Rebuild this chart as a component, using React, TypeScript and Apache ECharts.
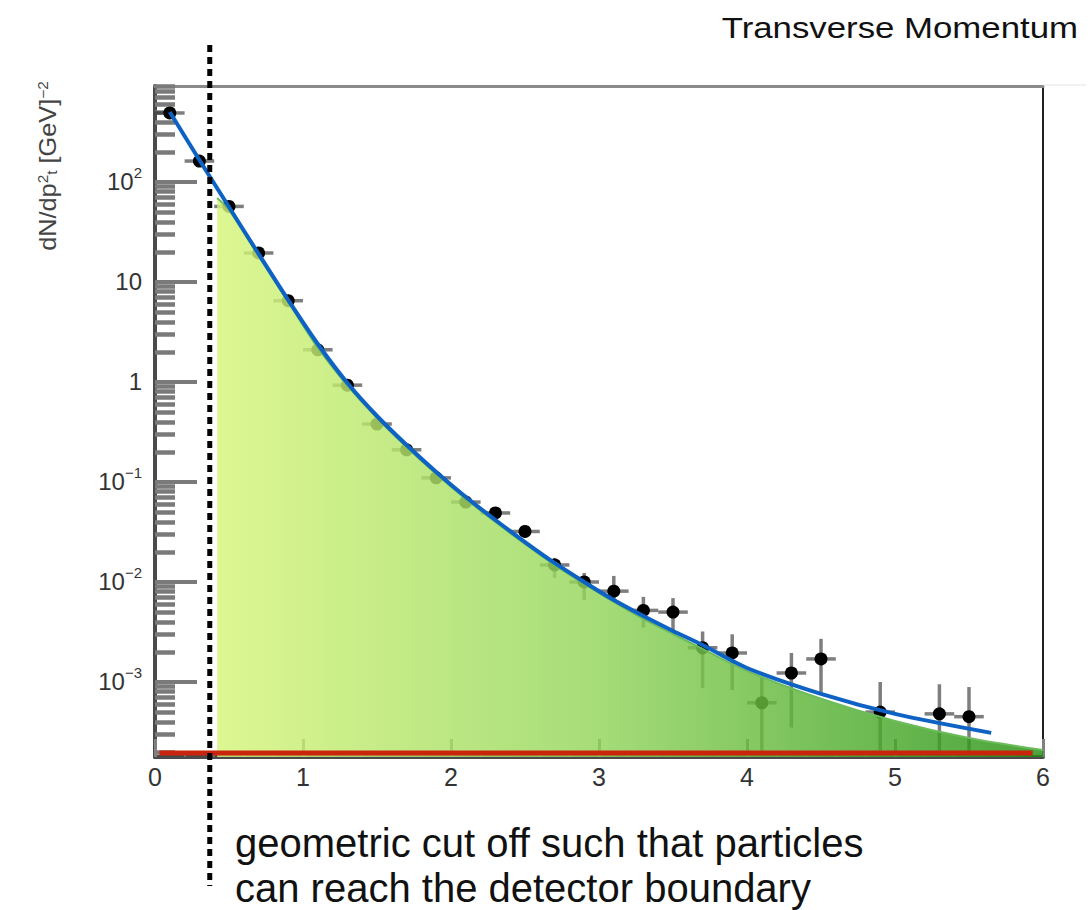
import React, { useEffect, useRef } from "react";
import * as echarts from "echarts";

// ---- data ----
const ptX = [0.1, 0.3, 0.5, 0.7, 0.9, 1.1, 1.3, 1.5, 1.7, 1.9, 2.1, 2.3, 2.5, 2.7, 2.9, 3.1, 3.3, 3.5, 3.7, 3.9, 4.1, 4.3, 4.5, 4.9, 5.3, 5.5];
const ptY = [490, 162, 57, 19.5, 6.5, 2.1, 0.93, 0.38, 0.21, 0.11, 0.063, 0.049, 0.032, 0.0148, 0.01, 0.0081, 0.0052, 0.005, 0.0022, 0.00195, 0.00062, 0.00123, 0.0017, 0.0005, 0.00048, 0.00045];
const ptLo = [450, 150, 53, 18, 6.0, 1.9, 0.85, 0.34, 0.19, 0.098, 0.056, 0.043, 0.028, 0.011, 0.0066, 0.0063, 0.0035, 0.0031, 0.00087, 0.00083, 0.00018, 0.00035, 0.00079, 0.00018, 0.00018, 0.00018];
const ptHi = [530, 175, 61, 21, 7.0, 2.3, 1.02, 0.42, 0.235, 0.123, 0.071, 0.056, 0.037, 0.0174, 0.0123, 0.0115, 0.0071, 0.0069, 0.0032, 0.003, 0.00112, 0.00195, 0.0027, 0.001, 0.00095, 0.00089];
const binHalfWidth = 0.1;

const fitX = [0.1, 0.3, 0.5, 0.7, 0.9, 1.1, 1.3, 1.5, 1.7, 1.9, 2.1, 2.3, 2.5, 2.7, 2.9, 3.1, 3.3, 3.5, 3.7, 4.0, 4.5, 5.0, 5.65];
const fitY = [501, 166, 56.2, 19.1, 6.61, 2.4, 0.977, 0.457, 0.234, 0.126, 0.0708, 0.0417, 0.0251, 0.0155, 0.01, 0.0066, 0.00457, 0.00324, 0.00234, 0.00138, 0.00076, 0.00048, 0.00031];

const fillX = [0.42, 0.5, 0.7, 0.9, 1.1, 1.3, 1.5, 1.7, 1.9, 2.1, 2.3, 2.5, 2.7, 2.9, 3.1, 3.3, 3.5, 3.7, 4.0, 4.5, 5.0, 5.5, 6.0];
const fillY = [69.2, 52.5, 18.2, 6.31, 2.2, 0.92, 0.437, 0.224, 0.12, 0.0676, 0.0398, 0.024, 0.0148, 0.00955, 0.00631, 0.00427, 0.00302, 0.00214, 0.00129, 0.00068, 0.000407, 0.000275, 0.000209];

const bgX = [0.03, 5.93];
const bgY = [0.000195, 0.000195];

const cutX = 0.37;

const yTickValues = [100, 10, 1, 0.1, 0.01, 0.001];
const yTickLabels = ["10{s|2}", "10", "1", "10{s|−1}", "10{s|−2}", "10{s|−3}"];

const titleText = "Transverse Momentum";
const noteLines = ["geometric cut off such that particles", "can reach the detector boundary"];

const Y_MIN = 1.778e-4;
const Y_MAX = 912;

export default function App() {
  const ref = useRef<HTMLDivElement>(null);
  useEffect(() => {
    if (!ref.current) return;
    const chart = echarts.init(ref.current, undefined, { renderer: "svg" });

    const minorVals: number[] = [];
    for (let e = -4; e <= 2; e++) {
      for (let m = 2; m <= 9; m++) {
        const v = m * Math.pow(10, e);
        if (v > Y_MIN && v < Y_MAX) minorVals.push(v);
      }
    }

    const pts = ptX.map((x, i) => [x, ptY[i], ptLo[i], ptHi[i]]);
    const font = "'Liberation Sans', Arial, Helvetica, sans-serif";

    const logAxisBase = {
      type: "log" as const,
      logBase: 10,
      min: Y_MIN,
      max: Y_MAX,
      splitLine: { show: false },
    };

    chart.setOption({
      animation: false,
      backgroundColor: "#ffffff",
      textStyle: { fontFamily: font },
      grid: { left: 155, right: 49, top: 86, bottom: 153 },
      xAxis: [
        {
          type: "value",
          min: 0,
          max: 6,
          interval: 1,
          axisLine: { show: true, onZero: false, lineStyle: { color: "#4a4a4a", width: 4 } },
          axisTick: { show: true, inside: true, length: 18, lineStyle: { color: "#808080", width: 3 } },
          minorTick: { show: true, splitNumber: 5, length: 6, lineStyle: { color: "#707070", width: 2 } },
          splitLine: { show: false },
          axisLabel: {
            show: true,
            color: "#333",
            fontSize: 25,
            fontFamily: font,
            margin: 6,
            formatter: (v: number) => "{n|" + v + "}",
            rich: {
              n: { fontSize: 25, fontFamily: font, color: "#333", lineHeight: 28 },
            },
          },
        },
        {
          type: "value",
          position: "top",
          min: 0,
          max: 6,
          axisLine: { show: true, onZero: false, lineStyle: { color: "#8a8a8a", width: 3 } },
          axisTick: { show: false },
          axisLabel: { show: false },
          splitLine: { show: false },
        },
      ],
      yAxis: [
        {
          ...logAxisBase,
          position: "left",
          axisLine: { show: true, onZero: false, lineStyle: { color: "#4a4a4a", width: 4 } },
          axisTick: { show: true, inside: true, length: 42, customValues: yTickValues, lineStyle: { color: "#7a7a7a", width: 4 } },
          axisLabel: {
            customValues: yTickValues,
            margin: 13,
            formatter: (v: number) => {
              let best = 0;
              yTickValues.forEach((t, i) => {
                if (Math.abs(Math.log10(t) - Math.log10(v)) < Math.abs(Math.log10(yTickValues[best]) - Math.log10(v))) best = i;
              });
              return yTickLabels[best];
            },
            color: "#333",
            fontSize: 24,
            fontFamily: font,
            lineHeight: 34,
            rich: {
              s: { fontSize: 15, fontFamily: font, color: "#333", verticalAlign: "top", lineHeight: 16 },
            },
          },
        },
        {
          ...logAxisBase,
          position: "left",
          axisLine: { show: false },
          axisTick: { show: true, inside: true, length: 20, customValues: minorVals, lineStyle: { color: "#7a7a7a", width: 4.5 } },
          axisLabel: { show: false },
        },
        {
          ...logAxisBase,
          position: "right",
          axisLine: { show: true, onZero: false, lineStyle: { color: "#222", width: 2 } },
          axisTick: { show: false },
          axisLabel: { show: false },
        },
      ],
      series: [
        {
          type: "custom",
          name: "data",
          xAxisIndex: 0,
          yAxisIndex: 0,
          clip: true,
          z: 2,
          encode: { x: 0, y: 1 },
          data: pts,
          renderItem: (params: any, api: any) => {
            const x = api.value(0);
            const y = api.value(1);
            const c = api.coord([x, y]);
            const lo = api.coord([x, api.value(2)]);
            const hi = api.coord([x, api.value(3)]);
            const l = api.coord([x - binHalfWidth, y]);
            const r = api.coord([x + binHalfWidth, y]);
            const barStyle = { stroke: "rgba(40,40,40,0.6)", lineWidth: 3.5 };
            return {
              type: "group",
              children: [
                { type: "line", shape: { x1: c[0], y1: hi[1], x2: c[0], y2: lo[1] }, style: barStyle },
                { type: "line", shape: { x1: l[0], y1: c[1], x2: r[0], y2: c[1] }, style: barStyle },
                { type: "circle", shape: { cx: c[0], cy: c[1], r: 6.5 }, style: { fill: "#000" } },
              ],
            };
          },
        },
        {
          type: "line",
          name: "signal",
          z: 3,
          smooth: 0.3,
          symbol: "none",
          data: fillX.map((x, i) => [x, fillY[i]]),
          lineStyle: { color: "#6cbc5c", width: 2 },
          areaStyle: {
            origin: "start",
            opacity: 0.82,
            color: new echarts.graphic.LinearGradient(0, 0, 1, 0, [
              { offset: 0, color: "#d6f57a" },
              { offset: 0.45, color: "#94d65c" },
              { offset: 1, color: "#22900f" },
            ]),
          },
        },
        {
          type: "line",
          name: "background",
          z: 4,
          symbol: "none",
          data: bgX.map((x, i) => [x, bgY[i]]),
          lineStyle: { color: "#c8250c", width: 5 },
        },
        {
          type: "line",
          name: "fit",
          z: 5,
          smooth: 0.3,
          symbol: "none",
          data: fitX.map((x, i) => [x, fitY[i]]),
          lineStyle: { color: "#0d62c4", width: 4 },
        },
      ],
    });

    const cutPx = chart.convertToPixel({ xAxisIndex: 0 }, cutX) as number;

    chart.setOption({
      graphic: [
        {
          type: "line",
          id: "cut",
          z: 100,
          shape: { x1: cutPx, y1: 45, x2: cutPx, y2: 886 },
          style: { stroke: "#000", lineWidth: 5, lineDash: [7, 5] },
        },
        {
          type: "line",
          id: "topext",
          z: 1,
          shape: { x1: 1043, y1: 85, x2: 1086, y2: 85 },
          style: { stroke: "#e4e4e4", lineWidth: 1 },
        },
        {
          type: "text",
          id: "title",
          x: 1078,
          y: 28,
          scaleX: 1.16,
          style: { text: titleText, fill: "#111", fontSize: 30, fontFamily: font, align: "right", verticalAlign: "middle" },
        },
        {
          type: "text",
          id: "ytitle",
          x: 48,
          y: 166,
          rotation: Math.PI / 2,
          scaleX: 1.1,
          style: {
            text: "dN/dp{s|2}{u|t} [GeV]{s|−2}",
            fill: "#444",
            fontSize: 23,
            fontFamily: font,
            align: "center",
            verticalAlign: "middle",
            rich: {
              s: { fontSize: 14, fontFamily: font, fill: "#444", verticalAlign: "top", lineHeight: 14 },
              u: { fontSize: 14, fontFamily: font, fill: "#444", verticalAlign: "bottom", lineHeight: 14 },
            },
          },
        },
        {
          type: "text",
          id: "note1",
          x: 235,
          y: 843,
          style: { text: noteLines[0], fill: "#111", fontSize: 40, fontFamily: font, verticalAlign: "middle" },
        },
        {
          type: "text",
          id: "note2",
          x: 235,
          y: 888,
          style: { text: noteLines[1], fill: "#111", fontSize: 40, fontFamily: font, verticalAlign: "middle" },
        },
      ],
    });

    return () => chart.dispose();
  }, []);

  return <div ref={ref} style={{ position: "fixed", left: 0, top: 0, width: 1092, height: 910 }} />;
}
